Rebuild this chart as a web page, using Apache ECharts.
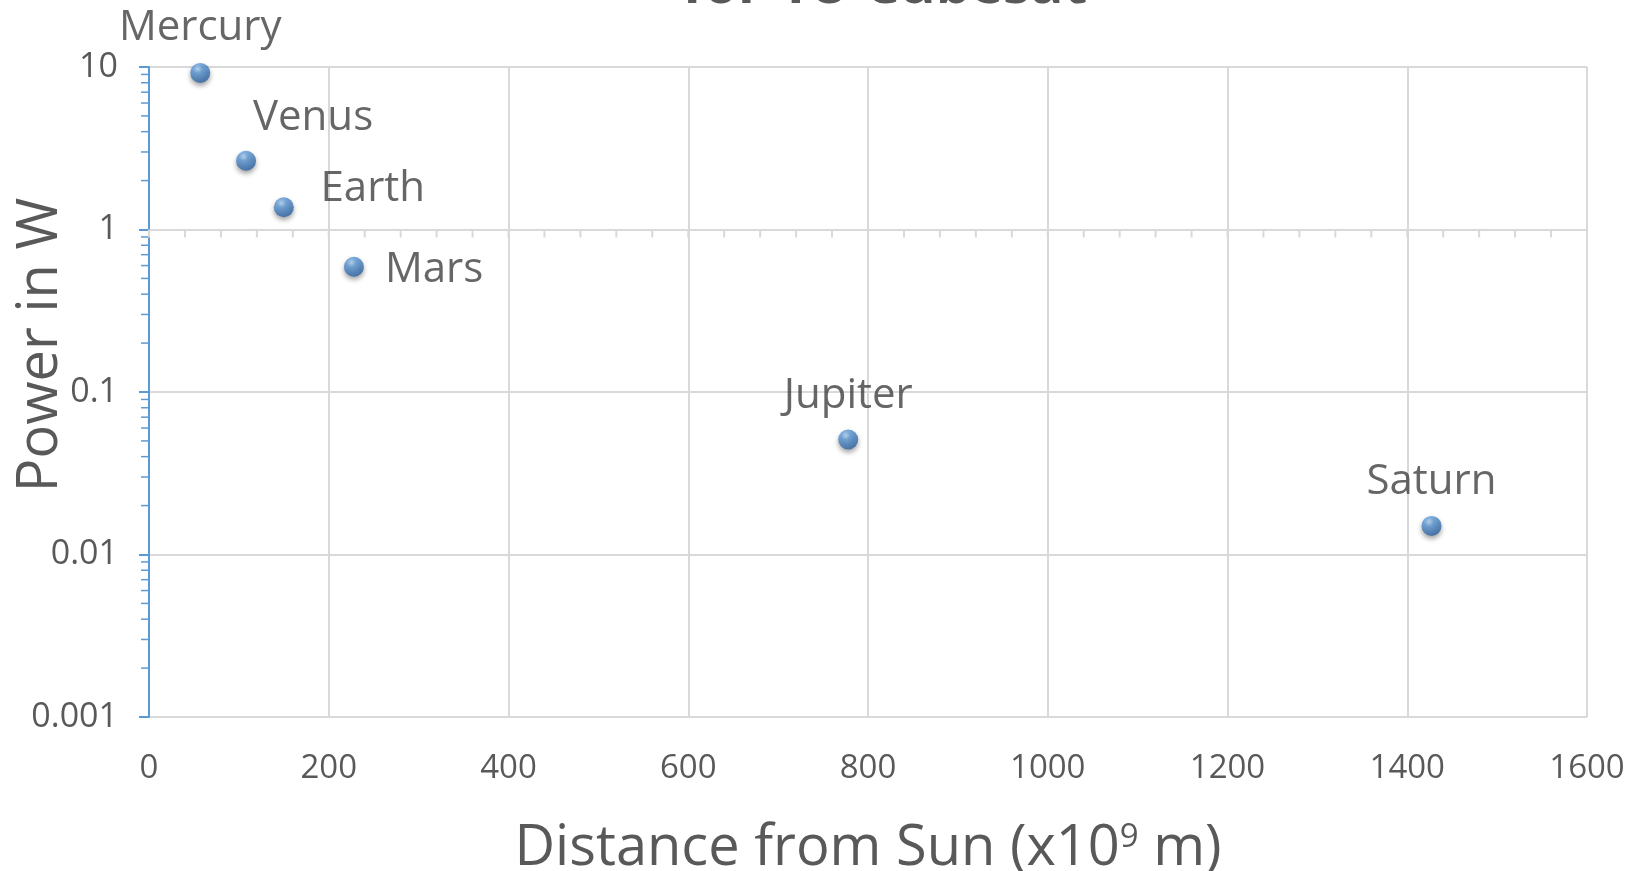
<!DOCTYPE html>
<html>
<head>
<meta charset="utf-8">
<script src="https://cdn.jsdelivr.net/npm/echarts@6/dist/echarts.min.js"></script>
<style>
html,body{margin:0;padding:0;background:#fff;}
#chart{width:1640px;height:871px;}
</style>
</head>
<body>
<div id="chart"></div>
<script>
// ---- data ----
const planets = ['Mercury', 'Venus', 'Earth', 'Mars', 'Jupiter', 'Saturn'];
const distance = [57, 108, 150, 228, 778, 1427];          // x10^9 m
const power = [9.2, 2.65, 1.37, 0.59, 0.051, 0.015];       // W
const xTicks = [0, 200, 400, 600, 800, 1000, 1200, 1400, 1600];
const yTicks = [0.001, 0.01, 0.1, 1, 10];
const xMinorTicks = [];
for (let v = 0; v <= 1600; v += 40) xMinorTicks.push(v);
const yMinorTicks = [];
for (let e = -3; e < 1; e++) for (let m = 2; m <= 9; m++) yMinorTicks.push(+(m * Math.pow(10, e)).toPrecision(6));

// ---- styles ----
const FONT = 'Open Sans';
const TXT = '#595959';
const GRID = '#D9D9D9';
const AXIS = '#5B9BD5';
const labelStyle = {
  Mercury: { position: 'inside', offset: [0, -45] },
  Venus:   { position: 'inside', offset: [67, -43] },
  Earth:   { position: 'inside', offset: [89, -18] },
  Mars:    { position: 'right', distance: 21, offset: [0, 3] },
  Jupiter: { position: 'inside', offset: [0, -43] },
  Saturn:  { position: 'inside', offset: [0, -44] }
};

const chart = echarts.init(document.getElementById('chart'));
const option = {
  animation: false,
  backgroundColor: '#fff',
  textStyle: { fontFamily: FONT },
  grid: { left: 149, right: 53, top: 67, bottom: 154, containLabel: false, outerBoundsMode: 'none' },
  graphic: [
    {
      type: 'text', x: 885, y: -112,
      style: { text: 'Power Generated\nfor 1U Cubesat', fill: TXT, font: 'bold 55px "Open Sans"', textAlign: 'center', textVerticalAlign: 'top', lineHeight: 66 },
      z: 10
    },
    {
      type: 'text', x: 41, y: 345, rotation: Math.PI / 2,
      style: { text: 'Power in W', fill: TXT, font: '56px "Open Sans"', textAlign: 'center', textVerticalAlign: 'middle' }
    }
  ],
  xAxis: {
    type: 'value', min: 0, max: 1600, interval: 200,
    axisLine: { show: false },
    axisTick: { show: false },
    axisLabel: { color: TXT, fontSize: 33, fontFamily: FONT, margin: 35, formatter: v => String(v) },
    splitLine: { show: true, lineStyle: { color: GRID, width: 2 } },
    name: 'Distance from Sun (x10{sup|9} m)',
    nameLocation: 'middle', nameGap: 104,
    nameTextStyle: {
      color: TXT, fontSize: 56, fontFamily: FONT,
      rich: { sup: { fontSize: 33, color: TXT, fontFamily: FONT, verticalAlign: 'top', padding: [0, 0, 22, 0] } }
    }
  },
  yAxis: {
    type: 'log', logBase: 10, min: 0.001, max: 10,
    axisLine: { show: true, lineStyle: { color: AXIS, width: 2 } },
    axisTick: { show: true, length: 10, lineStyle: { color: AXIS, width: 2 } },
    axisLabel: {
      color: TXT, fontSize: 34, fontFamily: FONT, margin: 31,
      formatter: v => String(+(+v).toPrecision(6))
    },
    splitLine: { show: true, lineStyle: { color: GRID, width: 2 } }
  },
  series: [
    {
      type: 'custom', silent: true, clip: false, z: 3,
      data: yMinorTicks.map(v => [0, v]),
      encode: { x: 0, y: 1 },
      renderItem: function (params, api) {
        const cs = params.coordSys;
        const p = api.coord([api.value(0), api.value(1)]);
        return { type: 'line', shape: { x1: cs.x - 8, y1: p[1], x2: cs.x, y2: p[1] }, style: { stroke: AXIS, lineWidth: 1.5 } };
      }
    },
    {
      type: 'custom', silent: true, clip: false, z: 3,
      data: xMinorTicks.map(v => [v, 1]),
      encode: { x: 0, y: 1 },
      renderItem: function (params, api) {
        const p = api.coord([api.value(0), api.value(1)]);
        return { type: 'line', shape: { x1: p[0], y1: p[1], x2: p[0], y2: p[1] + 8 }, style: { stroke: GRID, lineWidth: 2 } };
      }
    },
    {
      type: 'scatter', z: 5,
      symbol: 'circle', symbolSize: 20,
      itemStyle: {
        color: {
          type: 'radial', x: 0.38, y: 0.3, r: 0.75,
          colorStops: [
            { offset: 0, color: '#B4D3F2' },
            { offset: 0.3, color: '#5E9BD8' },
            { offset: 1, color: '#2A5E9E' }
          ]
        },
        shadowBlur: 5, shadowColor: 'rgba(0,0,0,0.45)', shadowOffsetY: 3
      },
      label: { show: true, formatter: '{b}', color: '#404040', fontSize: 42, fontFamily: FONT },
      data: planets.map((n, i) => ({
        name: n,
        value: [distance[i], power[i]],
        label: labelStyle[n]
      }))
    }
  ]
};
chart.setOption(option);
</script>
</body>
</html>
